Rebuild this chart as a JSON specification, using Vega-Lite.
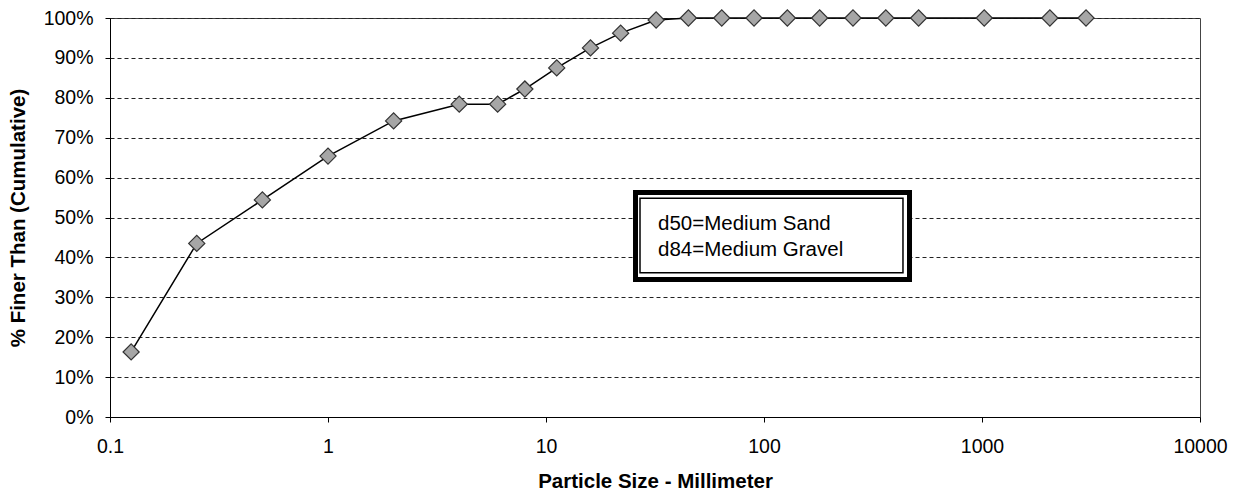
{
  "$schema": "https://vega.github.io/schema/vega-lite/v6.json",
  "width": 1090,
  "height": 399,
  "autosize": "none",
  "padding": {"left": 110, "top": 18, "right": 36, "bottom": 75},
  "background": "white",
  "config": {
    "view": {"stroke": "#444", "strokeWidth": 1},
    "font": "Liberation Sans",
    "axis": {"labelColor": "black", "titleColor": "black", "domainColor": "black", "tickColor": "black", "labelFont": "Liberation Sans", "titleFont": "Liberation Sans"},
    "axisX": {
      "format": "~g", "grid": false, "tickSize": 5, "labelPadding": 15, "labelFontSize": 19.5,
      "labelFlush": false, "labelOverlap": false, "titleFontSize": 20.5, "titleFontWeight": "bold",
      "titleX": 545, "titleY": 64, "titleAlign": "center", "titleBaseline": "middle"
    },
    "axisY": {
      "labelExpr": "datum.value + '%'", "labelOverlap": false, "labelFlush": false,
      "grid": true, "gridColor": "#222", "gridDash": [4, 3], "gridWidth": 1,
      "tickSize": 5, "labelPadding": 12, "labelFontSize": 19.5, "titleFontSize": 20.5, "titleFontWeight": "bold",
      "titleX": -92, "titleY": 199.5, "titleAngle": -90, "titleAlign": "center", "titleBaseline": "middle"
    }
  },
  "datasets": {
    "gradation": [
      {"size": 0.125, "pct": 16.3},
      {"size": 0.25, "pct": 43.5},
      {"size": 0.5, "pct": 54.4},
      {"size": 1, "pct": 65.4},
      {"size": 2, "pct": 74.2},
      {"size": 4, "pct": 78.4},
      {"size": 6, "pct": 78.4},
      {"size": 8, "pct": 82.2},
      {"size": 11.2, "pct": 87.5},
      {"size": 16, "pct": 92.5},
      {"size": 22, "pct": 96.2},
      {"size": 32, "pct": 99.5},
      {"size": 45, "pct": 100},
      {"size": 64, "pct": 100},
      {"size": 90, "pct": 100},
      {"size": 128, "pct": 100},
      {"size": 180, "pct": 100},
      {"size": 256, "pct": 100},
      {"size": 362, "pct": 100},
      {"size": 512, "pct": 100},
      {"size": 1024, "pct": 100},
      {"size": 2048, "pct": 100},
      {"size": 3000, "pct": 100}
    ],
    "outerbox": [{"size": 25.74, "size2": 465, "pct": 34.46, "pct2": 56.27}],
    "innerbox": [{"size": 26.99, "size2": 434, "pct": 36.17, "pct2": 54.81}],
    "note": [
      {"label": "d50=Medium Sand", "size": 32.65, "pct": 46.87},
      {"label": "d84=Medium Gravel", "size": 32.65, "pct": 40.35}
    ]
  },
  "layer": [
    {
      "data": {"name": "gradation"},
      "mark": {"type": "line", "color": "black", "strokeWidth": 1.5},
      "encoding": {
        "x": {"field": "size", "type": "quantitative", "scale": {"type": "log", "domain": [0.1, 10000], "nice": false},
              "axis": {"values": [0.1, 1, 10, 100, 1000, 10000], "title": "Particle Size - Millimeter"}},
        "y": {"field": "pct", "type": "quantitative", "scale": {"domain": [0, 100], "nice": false},
              "axis": {"values": [0, 10, 20, 30, 40, 50, 60, 70, 80, 90, 100], "title": "% Finer Than (Cumulative)"}}
      }
    },
    {
      "data": {"name": "gradation"},
      "mark": {"type": "point", "shape": "diamond", "filled": true, "fill": "#a6a6a6", "stroke": "#333", "strokeWidth": 1.2, "size": 260, "opacity": 1},
      "encoding": {
        "x": {"field": "size", "type": "quantitative", "axis": {"values": [0.1, 1, 10, 100, 1000, 10000], "title": "Particle Size - Millimeter"}},
        "y": {"field": "pct", "type": "quantitative", "axis": {"values": [0, 10, 20, 30, 40, 50, 60, 70, 80, 90, 100], "title": "% Finer Than (Cumulative)"}}
      }
    },
    {
      "data": {"name": "outerbox"},
      "mark": {"type": "rect", "fill": "white", "stroke": "black", "strokeWidth": 5},
      "encoding": {
        "x": {"field": "size", "type": "quantitative", "axis": {"values": [0.1, 1, 10, 100, 1000, 10000], "title": "Particle Size - Millimeter"}},
        "x2": {"field": "size2"},
        "y": {"field": "pct", "type": "quantitative", "axis": {"values": [0, 10, 20, 30, 40, 50, 60, 70, 80, 90, 100], "title": "% Finer Than (Cumulative)"}},
        "y2": {"field": "pct2"}
      }
    },
    {
      "data": {"name": "innerbox"},
      "mark": {"type": "rect", "fill": "white", "stroke": "black", "strokeWidth": 1.5},
      "encoding": {
        "x": {"field": "size", "type": "quantitative", "axis": {"values": [0.1, 1, 10, 100, 1000, 10000], "title": "Particle Size - Millimeter"}},
        "x2": {"field": "size2"},
        "y": {"field": "pct", "type": "quantitative", "axis": {"values": [0, 10, 20, 30, 40, 50, 60, 70, 80, 90, 100], "title": "% Finer Than (Cumulative)"}},
        "y2": {"field": "pct2"}
      }
    },
    {
      "data": {"name": "note"},
      "mark": {"type": "text", "align": "left", "baseline": "alphabetic", "fontSize": 20.5, "color": "black", "font": "Liberation Sans"},
      "encoding": {
        "x": {"field": "size", "type": "quantitative", "axis": {"values": [0.1, 1, 10, 100, 1000, 10000], "title": "Particle Size - Millimeter"}},
        "y": {"field": "pct", "type": "quantitative", "axis": {"values": [0, 10, 20, 30, 40, 50, 60, 70, 80, 90, 100], "title": "% Finer Than (Cumulative)"}},
        "text": {"field": "label"}
      }
    }
  ]
}
